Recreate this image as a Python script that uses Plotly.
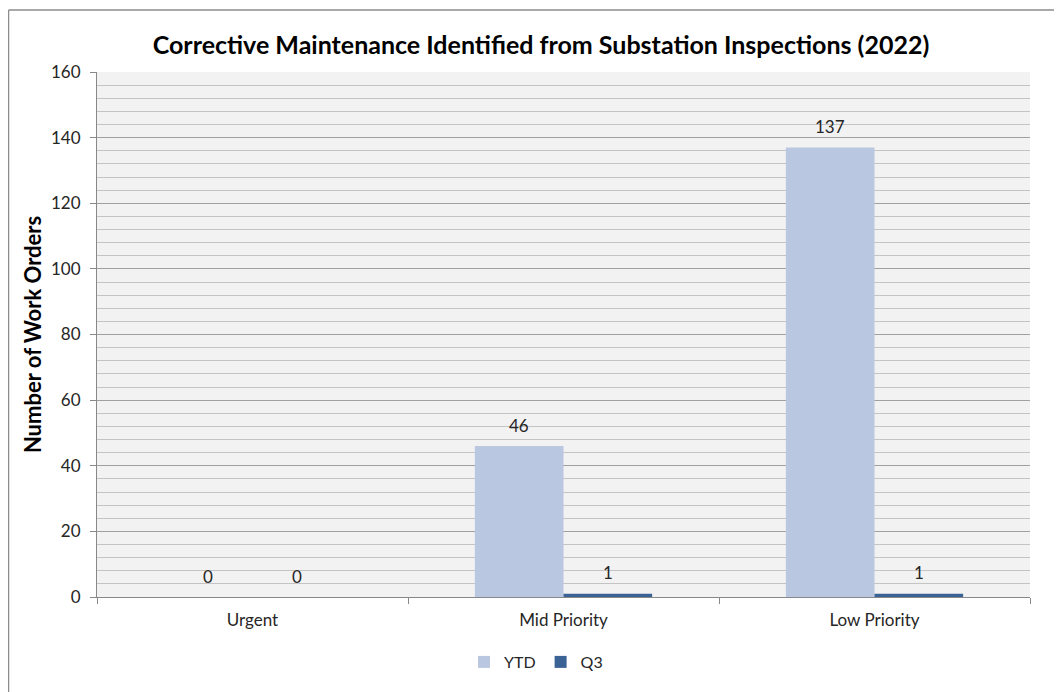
import plotly.graph_objects as go

categories = ["Urgent", "Mid Priority", "Low Priority"]
ytd_values = [0, 46, 137]
q3_values = [0, 1, 1]
series_names = ["YTD", "Q3"]
title_text = "Corrective Maintenance Identified from Substation Inspections (2022)"
y_title = "Number of Work Orders"

FONT = "Lato, Calibri, 'Open Sans', sans-serif"
# page has an 8px body margin; work in figure pixels
L, R, T, B = 89, 32, 64, 95
W, H = 1054, 684
pw, ph = W - L - R, H - T - B
BARGAP = 0.43

def fx(px):  # figure px -> paper x
    return (px - L) / pw

def fy(py):  # figure px -> paper y
    return (H - B - py) / ph

fig = go.Figure()
series = [(series_names[0], ytd_values, "#B9C7E0"), (series_names[1], q3_values, "#3B6295")]
for name, vals, col in series:
    fig.add_trace(go.Bar(
        x=categories, y=vals, name=name,
        marker=dict(color=col, line=dict(width=0)),
    ))

# data labels above bars (offset to the grouped bar centres)
cat_px = pw / len(categories)
bar_px = cat_px * (1 - BARGAP) / len(series)
for i, (name, vals, col) in enumerate(series):
    shift = (i - (len(series) - 1) / 2) * bar_px
    for c, v in zip(categories, vals):
        fig.add_annotation(
            x=c, y=v, xref="x", yref="y", text=str(v), showarrow=False,
            xshift=shift, yshift=21, yanchor="middle", xanchor="center",
            font=dict(family=FONT, size=17, color="#262626"),
        )

fig.update_layout(
    width=W, height=H,
    margin=dict(l=L, r=R, t=T, b=B),
    paper_bgcolor="white",
    plot_bgcolor="#F2F2F2",
    barmode="group",
    bargap=BARGAP,
    bargroupgap=0,
    font=dict(family=FONT, size=17, color="#262626"),
    title=dict(
        text="<b>" + title_text + "</b>",
        x=fx(533), xref="paper", xanchor="center",
        y=1 - 37 / H, yanchor="middle",
        font=dict(family=FONT, size=25, color="black"),
    ),
    legend=dict(
        orientation="h", x=fx(528), xanchor="center",
        y=fy(654), yanchor="middle",
        font=dict(family=FONT, size=16, color="#262626"),
        itemwidth=30, tracegroupgap=0,
    ),
    showlegend=True,
)

fig.update_xaxes(
    type="category",
    showline=True, linecolor="#888888", linewidth=1,
    ticks="outside", tickson="boundaries", ticklen=6, tickcolor="#888888",
    ticklabelstandoff=8,
    showgrid=False,
    tickfont=dict(family=FONT, size=17, color="#262626"),
)
fig.update_yaxes(
    range=[0, 160], dtick=20,
    showline=True, linecolor="#888888", linewidth=1,
    ticks="outside", ticklen=6, tickcolor="#888888",
    ticklabelstandoff=6,
    showgrid=True, gridcolor="#A0A0A0", gridwidth=1.3,
    minor=dict(dtick=4, showgrid=True, gridcolor="#C4C4C4", gridwidth=1.3),
    zeroline=False,
    tickfont=dict(family=FONT, size=17, color="#262626"),
    title=dict(text="<b>" + y_title + "</b>", font=dict(family=FONT, size=22, color="black"), standoff=3),
)

# chart outer border (extends off the right and bottom of the frame)
fig.add_shape(type="line", xref="paper", yref="paper",
              x0=fx(0.5), x1=fx(0.5), y0=fy(2), y1=fy(720),
              line=dict(color="#8C8C8C", width=1.5))
fig.add_shape(type="line", xref="paper", yref="paper",
              x0=fx(0.5), x1=fx(1100), y0=fy(2), y1=fy(2),
              line=dict(color="#8C8C8C", width=1.5))

fig.write_html("out.html")
